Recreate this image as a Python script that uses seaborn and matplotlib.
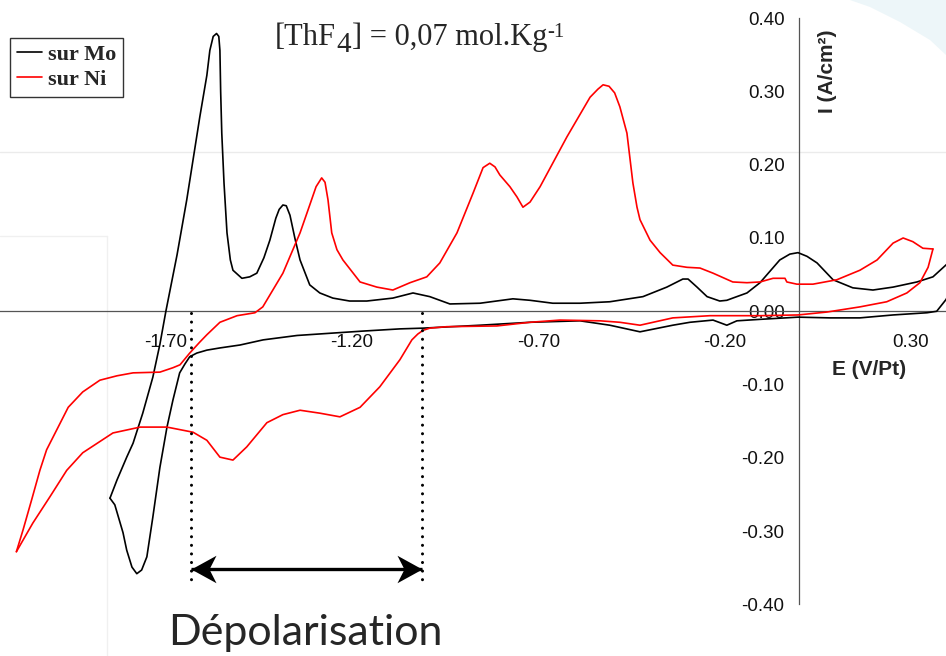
import matplotlib
matplotlib.use("Agg")
import matplotlib.pyplot as plt
import seaborn as sns
import pandas as pd
from matplotlib.path import Path
from matplotlib.lines import Line2D
from matplotlib.patches import Polygon

# ---------------- data (E in V/Pt, I in A/cm2) ----------------
mo_ox_E = [-1.849, -1.830, -1.804, -1.787, -1.761, -1.734, -1.715, -1.699, -1.669, -1.643,
           -1.608, -1.589, -1.581, -1.572, -1.563, -1.557, -1.554, -1.552, -1.549, -1.543,
           -1.535, -1.526, -1.519, -1.495, -1.474, -1.455, -1.436, -1.420, -1.404, -1.395,
           -1.385, -1.376, -1.366, -1.353, -1.339, -1.313, -1.286, -1.251, -1.206, -1.160,
           -1.090, -1.036, -0.991, -0.937, -0.856, -0.768, -0.722, -0.661, -0.588, -0.508,
           -0.419, -0.355, -0.312, -0.298, -0.274, -0.247, -0.213, -0.194, -0.178, -0.140,
           -0.105, -0.052, -0.025, -0.003, 0.021, 0.048, 0.091, 0.144, 0.198, 0.252,
           0.316, 0.359, 0.400]
mo_ox_I = [-0.255, -0.230, -0.199, -0.180, -0.139, -0.090, -0.045, 0.000, 0.077, 0.152,
           0.265, 0.322, 0.356, 0.375, 0.379, 0.375, 0.356, 0.300, 0.243, 0.175,
           0.107, 0.070, 0.056, 0.045, 0.047, 0.052, 0.073, 0.097, 0.127, 0.139,
           0.145, 0.144, 0.131, 0.100, 0.070, 0.036, 0.025, 0.018, 0.014, 0.014,
           0.018, 0.025, 0.020, 0.010, 0.011, 0.017, 0.015, 0.011, 0.011, 0.013,
           0.020, 0.033, 0.044, 0.044, 0.033, 0.020, 0.014, 0.015, 0.018, 0.025,
           0.039, 0.070, 0.078, 0.080, 0.075, 0.066, 0.043, 0.032, 0.029, 0.033,
           0.040, 0.047, 0.066]

mo_red_E = [0.404, 0.394, 0.369, 0.343, 0.252, 0.163, 0.083, -0.003, -0.105, -0.167,
            -0.194, -0.231, -0.293, -0.339, -0.427, -0.508, -0.588, -0.722, -0.856, -1.009,
            -1.071, -1.170, -1.259, -1.347, -1.438, -1.500, -1.554, -1.589, -1.616, -1.635,
            -1.648, -1.662, -1.680, -1.696, -1.715, -1.734, -1.750, -1.764, -1.777, -1.790,
            -1.804, -1.814, -1.836, -1.849]
mo_red_I = [0.026, 0.016, 0.000, -0.002, -0.005, -0.009, -0.009, -0.008, -0.011, -0.013,
            -0.019, -0.012, -0.015, -0.019, -0.028, -0.019, -0.013, -0.015, -0.019, -0.023,
            -0.024, -0.027, -0.030, -0.033, -0.039, -0.046, -0.050, -0.053, -0.057, -0.062,
            -0.072, -0.084, -0.121, -0.158, -0.213, -0.281, -0.335, -0.353, -0.358, -0.349,
            -0.326, -0.302, -0.264, -0.255]

ni_ox_E = [-2.100, -2.082, -2.059, -2.037, -2.019, -1.992, -1.961, -1.922, -1.876, -1.830,
           -1.787, -1.715, -1.680, -1.661, -1.635, -1.608, -1.589, -1.554, -1.508, -1.460,
           -1.439, -1.412, -1.385, -1.339, -1.313, -1.296, -1.281, -1.272, -1.264, -1.254,
           -1.240, -1.224, -1.178, -1.133, -1.090, -1.044, -0.999, -0.964, -0.918, -0.875,
           -0.848, -0.830, -0.816, -0.803, -0.776, -0.757, -0.741, -0.722, -0.695, -0.623,
           -0.561, -0.540, -0.526, -0.510, -0.495, -0.481, -0.462, -0.446, -0.435, -0.427,
           -0.400, -0.373, -0.339, -0.301, -0.266, -0.231, -0.178, -0.140, -0.105, -0.070,
           -0.038, -0.033, -0.006, 0.037, 0.101, 0.163, 0.209, 0.252, 0.279, 0.305,
           0.332, 0.359]
ni_ox_I = [-0.328, -0.298, -0.257, -0.217, -0.189, -0.162, -0.131, -0.110, -0.094, -0.088,
           -0.084, -0.083, -0.077, -0.073, -0.057, -0.042, -0.032, -0.015, -0.006, -0.002,
           0.006, 0.029, 0.052, 0.107, 0.145, 0.170, 0.182, 0.176, 0.152, 0.107,
           0.084, 0.070, 0.040, 0.033, 0.029, 0.039, 0.047, 0.066, 0.107, 0.161,
           0.196, 0.202, 0.197, 0.186, 0.170, 0.156, 0.142, 0.149, 0.170, 0.238,
           0.292, 0.303, 0.309, 0.307, 0.298, 0.279, 0.243, 0.175, 0.142, 0.125,
           0.097, 0.080, 0.063, 0.060, 0.059, 0.052, 0.040, 0.039, 0.040, 0.045,
           0.045, 0.040, 0.037, 0.037, 0.043, 0.056, 0.070, 0.093, 0.100, 0.095,
           0.086, 0.085]

ni_red_E = [0.359, 0.346, 0.324, 0.289, 0.235, 0.163, 0.075, -0.003, -0.105, -0.239,
            -0.339, -0.427, -0.481, -0.534, -0.642, -0.722, -0.811, -0.945, -0.991, -1.009,
            -1.023, -1.039, -1.071, -1.125, -1.178, -1.232, -1.286, -1.339, -1.385, -1.428,
            -1.482, -1.519, -1.554, -1.589, -1.626, -1.696, -1.768, -1.841, -1.922, -1.965,
            -2.010, -2.056, -2.100]
ni_red_I = [0.085, 0.060, 0.039, 0.025, 0.013, 0.006, -0.001, -0.005, -0.006, -0.006,
            -0.009, -0.019, -0.015, -0.013, -0.012, -0.015, -0.020, -0.021, -0.023, -0.026,
            -0.031, -0.039, -0.066, -0.103, -0.131, -0.144, -0.139, -0.135, -0.141, -0.152,
            -0.185, -0.203, -0.199, -0.176, -0.165, -0.158, -0.158, -0.166, -0.193, -0.217,
            -0.253, -0.289, -0.328]

series_labels = ["sur Mo", "sur Ni"]
series_colors = {"sur Mo": "#000000", "sur Ni": "#ff0000"}

x_ticks = [-1.70, -1.20, -0.70, -0.20, 0.30]
x_tick_labels = ["-1.70", "-1.20", "-0.70", "-0.20", "0.30"]
y_ticks = [-0.40, -0.30, -0.20, -0.10, 0.00, 0.10, 0.20, 0.30, 0.40]
y_tick_labels = ["-0.40", "-0.30", "-0.20", "-0.10", "0.00", "0.10", "0.20", "0.30", "0.40"]

depol_E = [-1.632, -1.012]       # depolarisation window
depol_I_top = -0.002
depol_I_bottom = -0.369
arrow_I = -0.352

# title pieces: (text, size in pt, vertical shift in px)
title_parts = [("[ThF", 22, 0), ("4", 21, -7), ("] = 0,07 mol.Kg", 22, 0), ("-1", 15, 8)]
x_label = "E (V/Pt)"
y_label = "I (A/cm²)"
note_text = "Dépolarisation"

# ---------------- build table ----------------
frames = []
for lab, branch, E, I in [("sur Mo", "Mo_ox", mo_ox_E, mo_ox_I),
                          ("sur Mo", "Mo_red", mo_red_E, mo_red_I),
                          ("sur Ni", "Ni_ox", ni_ox_E, ni_ox_I),
                          ("sur Ni", "Ni_red", ni_red_E, ni_red_I)]:
    frames.append(pd.DataFrame({"E": E, "I": I, "electrode": lab, "branch": branch}))
df = pd.concat(frames, ignore_index=True)

# ---------------- style ----------------
sns.set_theme(style="white")
plt.rcParams["font.family"] = ["Liberation Sans", "DejaVu Sans"]

W, H = 946, 656
fig = plt.figure(figsize=(W / 100, H / 100), dpi=100)
fig.patch.set_facecolor("white")
ax = fig.add_axes([0, 0, 1, 1])
ax.patch.set_visible(False)

# faint slide remnants in the background
ax.add_line(Line2D([0, 1], [1 - 152 / H] * 2, transform=ax.transAxes, color="#ebebeb", lw=1.0, zorder=0))
ax.add_line(Line2D([0, 107 / W], [1 - 236 / H] * 2, transform=ax.transAxes, color="#f0f0f0", lw=1.0, zorder=0))
ax.add_line(Line2D([107 / W] * 2, [0, 1 - 236 / H], transform=ax.transAxes, color="#f0f0f0", lw=1.0, zorder=0))
deco = Polygon([(850 / W, 1), (1, 1), (1, 1 - 55 / H), (930 / W, 1 - 40 / H),
                (900 / W, 1 - 22 / H), (870 / W, 1 - 7 / H)],
               closed=True, transform=ax.transAxes, facecolor="#edf6f9", edgecolor="none", zorder=0)
ax.add_patch(deco)

sns.lineplot(data=df, x="E", y="I", hue="electrode", units="branch", estimator=None,
             sort=False, palette=series_colors, linewidth=1.2, legend=False, ax=ax, zorder=3)

ax.set_xlim(-2.144, 0.394)
ax.set_ylim(-0.4703, 0.4247)

# axes through origin
for s in ["top", "right"]:
    ax.spines[s].set_visible(False)
ax.spines["left"].set_position(("data", 0))
ax.spines["bottom"].set_position(("data", 0))
ax.spines["left"].set_bounds(-0.40, 0.40)
for s in ["left", "bottom"]:
    ax.spines[s].set_color("#555555")
    ax.spines[s].set_linewidth(0.9)
    ax.spines[s].set_zorder(2)

ax.set_xticks(x_ticks)
ax.set_xticklabels(x_tick_labels)
ax.set_yticks(y_ticks)
ax.set_yticklabels(y_tick_labels)
ax.tick_params(axis="x", direction="out", length=3.6, width=0.9, color="#555555",
               labelsize=13.5, pad=13, labelcolor="#111111")
ax.tick_params(axis="y", direction="out", length=5, width=0.9, color="#555555",
               labelsize=13.5, pad=5.5, labelcolor="#111111")
ax.set_xlabel("")
ax.set_ylabel("")
ax.grid(False)

# partially visible tick label at the left border (cut as in the reference)
ax.text(-2.20, -0.0415, "-2.20", ha="center", va="center", fontsize=13.5, color="#111111")

# axis titles
ax.text(0.188, -0.0795, x_label, ha="center", va="center", fontsize=15, fontweight="bold")
ax.text(0.075, 0.328, y_label, ha="center", va="center", fontsize=15, fontweight="bold", rotation=90)

# title, assembled piece by piece (subscript / superscript)
fig.canvas.draw()
renderer = fig.canvas.get_renderer()
xpos = 275.0
for txt, size, dy in title_parts:
    t = fig.text(xpos / W, (H - 45 + dy) / H, txt, family="Liberation Serif", fontsize=size,
                 ha="left", va="baseline")
    xpos = t.get_window_extent(renderer=renderer).x1 + 0.5

# legend
handles = [Line2D([], [], color=series_colors[l], lw=1.2) for l in series_labels]
leg = ax.legend(handles, series_labels, loc="upper left", bbox_to_anchor=(10 / W, 1 - 38 / H),
                bbox_transform=fig.transFigure, borderaxespad=0, frameon=True, fancybox=False,
                framealpha=1, edgecolor="#333333", handlelength=1.15, handletextpad=0.25,
                borderpad=0.3, labelspacing=0.2,
                prop={"family": "Liberation Serif", "weight": "bold", "size": 16})
leg.get_frame().set_linewidth(1.0)

# depolarisation window: dotted verticals and double arrow
for e in depol_E:
    ax.plot([e, e], [depol_I_top, depol_I_bottom], color="black", lw=2.2,
            ls=(0, (0.01, 2.8)), dash_capstyle="round", zorder=4)
ax.plot(depol_E, [arrow_I, arrow_I], color="black", lw=2.4, solid_capstyle="butt", zorder=5)
head_r = Path([(0, 0), (-1, 0.55), (-0.72, 0), (-1, -0.55), (0, 0)],
              [Path.MOVETO, Path.LINETO, Path.LINETO, Path.LINETO, Path.CLOSEPOLY])
head_l = Path([(0, 0), (1, 0.55), (0.72, 0), (1, -0.55), (0, 0)],
              [Path.MOVETO, Path.LINETO, Path.LINETO, Path.LINETO, Path.CLOSEPOLY])
ax.plot([depol_E[1]], [arrow_I], marker=head_r, markersize=36, color="black", mew=0, zorder=6)
ax.plot([depol_E[0]], [arrow_I], marker=head_l, markersize=36, color="black", mew=0, zorder=6)

fig.text(168 / W, 1 - 645 / H, note_text, family="Lato", fontsize=31, ha="left", va="baseline")

fig.savefig("out.png", dpi=100)
